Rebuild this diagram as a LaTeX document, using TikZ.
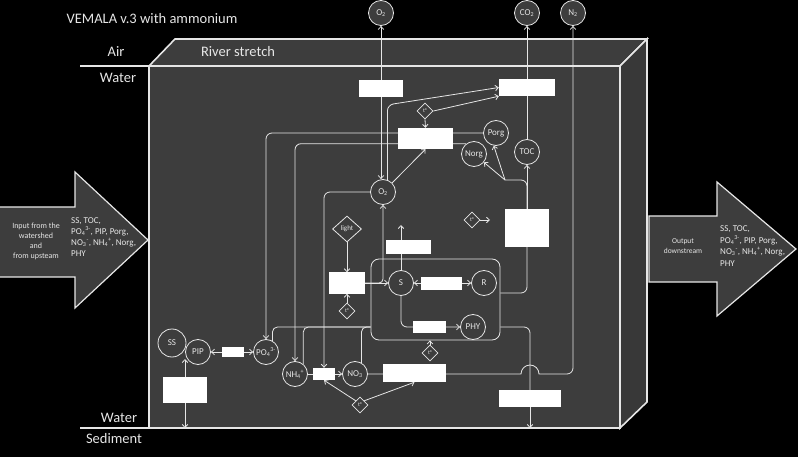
\documentclass[tikz,border=0pt]{standalone}
\usepackage{fontspec}
\setmainfont{Carlito}
\usetikzlibrary{arrows.meta,shapes.geometric}
\definecolor{riverbg}{HTML}{3D3D3D}
\definecolor{ink}{HTML}{E6E6E6}
\tikzset{
  flow/.style={draw=ink, line width=0.8pt},
  edge/.style={draw=ink, line width=1.6pt},
  pool/.style={circle, draw=ink, line width=0.8pt, fill=riverbg, minimum size=25pt, inner sep=0pt, text=ink, font=\fontsize{9}{9}\selectfont},
  factor/.style={diamond, draw=ink, line width=0.8pt, fill=riverbg, inner sep=0pt, minimum width=16pt, minimum height=16pt, text=ink, font=\fontsize{5.5}{6}\selectfont},
  proc/.style={rectangle, inner sep=0pt},
  lbl/.style={text=ink, inner sep=0pt, font=\fontsize{14.5}{16}\selectfont}
}
\begin{document}
\begin{tikzpicture}[x=1pt, y=-1pt, >={Straight Barb[length=3pt,width=5.5pt]}]
    \useasboundingbox (0,0) rectangle (798,457);
    \fill[black] (0,0) rectangle (798,457);

    \coordinate (fa) at (149,66); \coordinate (fb) at (620,66);
    \coordinate (fc) at (620,428); \coordinate (fd) at (149,428);
    \coordinate (ba) at (175,39); \coordinate (bb) at (647,39); \coordinate (bc) at (647,402);

    \draw[edge, line width=1.2pt, fill=riverbg] (-2,207) -- (75,207) -- (75,172) -- (148,240) -- (75,308) -- (75,277) -- (-2,277) -- cycle;
    \draw[edge, line width=1.2pt, fill=riverbg] (649,216) -- (717,216) -- (717,182) -- (796,249) -- (717,316) -- (717,282) -- (649,282) -- cycle;

    \draw[edge, fill=riverbg] (fa) -- (ba) -- (bb) -- (fb) -- cycle;
    \draw[edge, fill=riverbg!92!black] (fb) -- (bb) -- (bc) -- (fc) -- cycle;
    \draw[edge, fill=riverbg] (fa) rectangle (fc);
    \draw[edge, line width=1.2pt] (80,66) -- (fa); \draw[edge, line width=1.2pt] (80,428) -- (fd);

    \node[lbl] (title) at (152,19) {VEMALA v.3 with ammonium};
    \node[lbl] (air) at (116,52) {Air}; \node[lbl] (waterup) at (118,78) {Water};
    \node[lbl] (river) at (238,52) {River stretch};
    \node[lbl] (waterdn) at (119,418) {Water}; \node[lbl] (sediment) at (114,439) {Sediment};

    \node[text=ink, inner sep=0pt, align=center, font=\fontsize{8}{10}\selectfont] (inlbl) at (36,241) {Input from the\\watershed\\and\\from upsteam};
    \node[text=ink, inner sep=0pt, align=left, anchor=west, font=\fontsize{9}{10.8}\selectfont] (inlist) at (71,237) {SS, TOC,\\PO\textsubscript{4}\textsuperscript{3-}, PIP, Porg,\\NO\textsubscript{3}\textsuperscript{-}, NH\textsubscript{4}\textsuperscript{+}, Norg,\\PHY};
    \node[text=ink, inner sep=0pt, align=center, font=\fontsize{7.5}{10}\selectfont] (outlbl) at (683,246) {Output\\downstream};
    \node[text=ink, inner sep=0pt, align=left, anchor=west, font=\fontsize{9}{11.5}\selectfont] (outlist) at (720,246) {SS, TOC,\\PO\textsubscript{4}\textsuperscript{3-}, PIP, Porg,\\NO\textsubscript{3}\textsuperscript{-}, NH\textsubscript{4}\textsuperscript{+}, Norg,\\PHY};

    \node[draw=ink, line width=0.8pt, rounded corners=8pt, minimum width=129pt, minimum height=81pt, inner sep=0pt] (grp) at (435.5,299.5) {};

    \node[pool] (o2a) at (381,13) {O\textsubscript{2}};
    \node[pool] (co2) at (527,13) {CO\textsubscript{2}};
    \node[pool] (n2) at (573,13) {N\textsubscript{2}};
    \node[pool] (o2) at (383,192) {O\textsubscript{2}};
    \node[pool] (porg) at (496,133) {Porg};
    \node[pool] (norg) at (474,154) {Norg};
    \node[pool] (toc) at (527,152) {TOC};
    \node[pool] (s) at (401,283) {S};
    \node[pool] (r) at (484,283) {R};
    \node[pool] (phy) at (473,327) {PHY};
    \node[pool, minimum size=28pt] (ss) at (172,343) {SS};
    \node[pool] (pip) at (198,352) {PIP};
    \node[pool] (po4) at (266,352) {PO\textsubscript{4}\textsuperscript{3-}};
    \node[pool] (nh4) at (295,374) {NH\textsubscript{4}\textsuperscript{+}};
    \node[pool] (no3) at (355,374) {NO\textsubscript{3}};

    \node[factor] (ta) at (425,111) {t°};
    \node[factor, minimum width=29pt, minimum height=26pt, font=\fontsize{7}{7}\selectfont] (light) at (347,229) {light};
    \node[factor] (td) at (472,220) {t°};
    \node[factor] (ti) at (347,311) {t°};
    \node[factor] (tg) at (430,353) {t°};
    \node[factor] (tj) at (360,405) {t°};

    \node[proc, minimum width=44pt, minimum height=17pt] (ka) at (381,88.5) {};
    \node[proc, minimum width=56pt, minimum height=17pt] (kb) at (527,87.5) {};
    \node[proc, minimum width=55pt, minimum height=21pt] (kc) at (425.5,138.5) {};
    \node[proc, minimum width=43pt, minimum height=38pt] (kd) at (527,228) {};
    \node[proc, minimum width=45pt, minimum height=14pt] (kh) at (408.5,247) {};
    \node[proc, minimum width=35pt, minimum height=21pt] (ki) at (347,283) {};
    \node[proc, minimum width=41pt, minimum height=13pt] (ksr) at (441.5,283.5) {};
    \node[proc, minimum width=33pt, minimum height=12pt] (kg) at (429.5,327) {};
    \node[proc, minimum width=22pt, minimum height=10pt] (kk) at (233,352) {};
    \node[proc, minimum width=43pt, minimum height=26pt] (kl) at (185,390) {};
    \node[proc, minimum width=22pt, minimum height=12pt] (kj) at (324,374) {};
    \node[proc, minimum width=63pt, minimum height=18pt] (ke) at (414.5,373) {};
    \node[proc, minimum width=62pt, minimum height=17pt] (kf) at (530,398.5) {};

    \coordinate (fork) at (505,180); \coordinate (sout) at (401,225); \coordinate (tdo) at (490,220);
    \coordinate (ssb) at (185,359); \coordinate (sedl) at (185,428); \coordinate (sedr) at (530,428);

    \draw[flow, <->] (o2a) -- (o2a |- o2.north);
    \draw[flow, ->, rounded corners=6pt] (o2.70) -- ++(0,-75) -- (kb.west);
    \draw[flow, ->] (ta.east) -- (kb.south west); \draw[flow, ->] (ta.south) -- (kc.north);
    \draw[flow, ->] (kb.north) -- (co2.south); \draw[flow] (toc.north) -- (kb.south);
    \draw[flow, ->] (kd.north) -- (toc.south);
    \draw[flow, rounded corners=6pt] (kd.north) |- (fork);
    \draw[flow, ->] (fork) -- (norg.-40); \draw[flow, ->] (fork) -- (porg.-100);
    \draw[flow, ->, rounded corners=6pt] (porg.west) -| (po4.north);
    \draw[flow, ->, rounded corners=6pt] (norg.127) -| (nh4.north);
    \draw[flow, ->] (o2.45) -- (kc.south);
    \draw[flow, ->, rounded corners=6pt] (o2.west) -| (kj.north);
    \draw[flow, ->] (light.south) -- (ki.north); \draw[flow, ->] (ti.north) -- (ki.south);
    \draw[flow, ->] (ki.east) -- (s.west);
    \draw[flow, ->, rounded corners=4pt] (ki.east) -| (o2.south);
    \draw[flow, ->] (s.north) -- (sout);
    \draw[flow, <->] (s.east) -- (r.west);
    \draw[flow, ->, rounded corners=6pt] (s.south) |- (phy.west);
    \draw[flow, rounded corners=6pt] (grp.east |- 0,293) -| (kd.south);
    \draw[flow, rounded corners=6pt] (grp.east |- 0,327) -| (kf.north);
    \draw[flow, ->] (kf.south) -- (sedr);
    \draw[flow, ->] (tg.north) -- (tg |- grp.south);
    \draw[flow, ->] (td.east) -- (tdo);
    \draw[flow, <->] (pip.east) -- (po4.west);
    \draw[flow, ->] (kl.north) -- (ssb); \draw[flow, ->] (kl.south) -- (sedl);
    \draw[flow, ->] (nh4.east) -- (no3.west);
    \draw[flow, ->] (tj.north west) -- (kj.south); \draw[flow, ->] (tj.north east) -- (ke.south);
    \draw[flow, ->] (no3.east) -- (521,374) arc[start angle=180, end angle=0, radius=9pt] [rounded corners=6pt] -- (573,374) -- (n2.south);
    \draw[flow, rounded corners=5pt] (po4.60) |- (grp.west |- 0,327);
    \draw[flow, rounded corners=5pt] (nh4.50) |- (grp.west |- 0,327);
    \draw[flow, rounded corners=5pt] (no3.60) |- (grp.west |- 0,327);

    \foreach \k in {ka,kb,kc,kd,kh,ki,ksr,kg,kk,kl,kj,ke,kf} \fill[white] (\k.south west) rectangle (\k.north east);
\end{tikzpicture}
\end{document}
